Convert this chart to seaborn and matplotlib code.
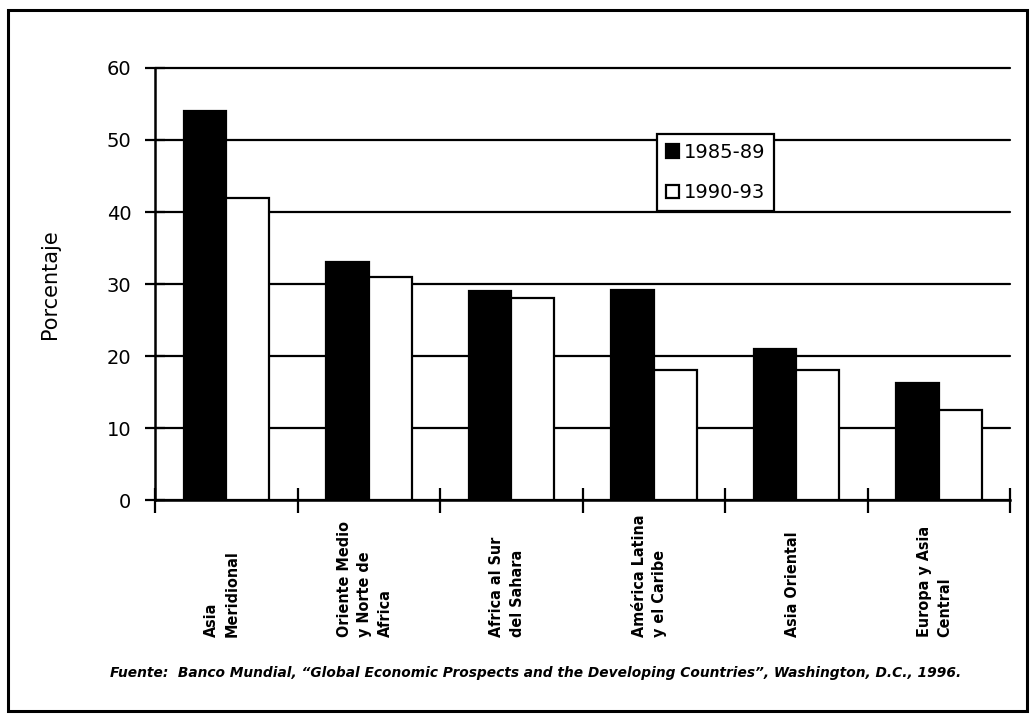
import pandas as pd
import matplotlib.pyplot as plt
import seaborn as sns
from matplotlib.patches import Rectangle

# Data
regions = ["Asia\nMeridional", "Oriente Medio\ny Norte de\nAfrica", "Africa al Sur\ndel Sahara",
           "América Latina\ny el Caribe", "Asia Oriental", "Europa y Asia\nCentral"]
v_1985_89 = [54, 33, 29, 29.2, 21, 16.3]
v_1990_93 = [42, 31, 28, 18, 18.1, 12.5]
periods = ["1985-89", "1990-93"]

df = pd.DataFrame({
    "region": regions * 2,
    "periodo": [periods[0]] * 6 + [periods[1]] * 6,
    "valor": v_1985_89 + v_1990_93,
})

sns.set_style("white")
plt.rcParams['font.family'] = ['DejaVu Sans']
plt.rcParams['text.color'] = 'black'
plt.rcParams['axes.labelcolor'] = 'black'
plt.rcParams['xtick.color'] = 'black'
plt.rcParams['ytick.color'] = 'black'

fig = plt.figure(figsize=(10.34, 7.18), dpi=100)
ax = fig.add_axes([0.150, 0.3036, 0.8268, 0.6017])

ax.set_axisbelow(True)
ax.yaxis.grid(True, color="black", linewidth=1.6)
sns.barplot(data=df, x="region", y="valor", hue="periodo", palette=["black", "white"],
            width=0.6, edgecolor="black", linewidth=1.6, saturation=1, ax=ax)
for gl in ax.get_ygridlines():
    gl.set_clip_on(False)

ax.set_ylim(0, 60)
ax.set_xlim(-0.5, 5.5)
ax.set_yticks(range(0, 61, 10))
ax.tick_params(axis="y", labelsize=14, direction="inout", length=14, width=1.6, left=True, pad=10)
ax.set_ylabel("Porcentaje", fontsize=15, labelpad=34)
ax.set_xlabel("")

# category separators as ticks on x axis
ax.set_xticks([i - 0.5 for i in range(7)])
ax.set_xticklabels([])
ax.tick_params(axis="x", direction="inout", length=18, width=1.6, bottom=True)
for i, lab in enumerate(regions):
    ax.text(i - 0.03, -19.0, lab, rotation=90, ha="center", va="bottom", fontsize=11.5,
            fontweight="bold", fontstretch="condensed", multialignment="left",
            linespacing=1.45)

for s in ["top", "right"]:
    ax.spines[s].set_visible(False)
for s in ["left", "bottom"]:
    ax.spines[s].set_color("black")
    ax.spines[s].set_linewidth(1.8)

leg = ax.legend(loc="upper left", bbox_to_anchor=(0.587, 0.847), borderaxespad=0, fontsize=14,
                frameon=True, fancybox=False, edgecolor="black", handlelength=0.7,
                handleheight=0.7, handletextpad=0.25, borderpad=0.45, labelspacing=1.1)
leg.get_frame().set_linewidth(1.6)
leg.get_frame().set_alpha(1)

fig.text(0.518, 0.057, "Fuente:  Banco Mundial, \u201cGlobal Economic Prospects and the Developing Countries\u201d, Washington, D.C., 1996.",
         ha="center", fontsize=9.9, fontstyle="italic", fontweight="bold")

fig.patches.append(Rectangle((0.008, 0.010), 0.985, 0.976, transform=fig.transFigure,
                             fill=False, edgecolor="black", linewidth=2.2))

fig.savefig("out.png", dpi=100)
